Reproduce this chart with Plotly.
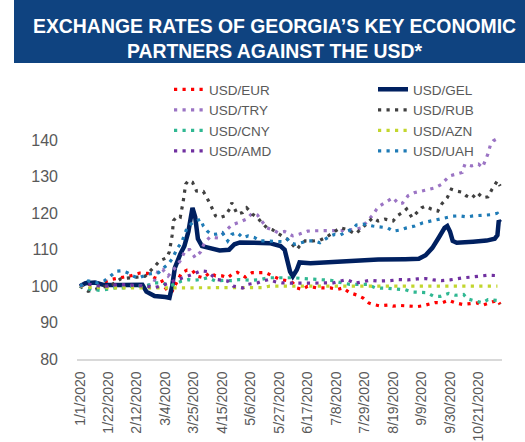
import pandas as pd
import plotly.graph_objects as go

# ---------------- data (index, 1 Jan 2020 = 100) ----------------
base_date = "2020-01-01"

eur_days = [0,2,10,17,24,30,37,44,50,55,60,63,66,68,72,75,79,83,86,91,96,100,105,109,112,116,122,127,131,137,142,148,153,157,160,164,168,175,179,185,190,194,199,204,209,213,216,221,227,231,236,244,249,253,257,262,267,272,277,282,288,293,297,303,308,310]
eur_vals = [100,100.5,100.5,101,101.9,102.3,102.8,103.6,103.5,102.3,101.8,99.5,98.2,98.6,101.4,103.7,104.4,104.3,102.8,102.3,103.7,102.8,102.8,102.3,103.2,103.8,102.5,103.7,103.7,103.7,102.8,101.8,101.5,100.9,99.5,99.1,100,99.5,99.5,99.5,99.1,99.5,98.2,97.6,96.7,95.4,95,94.6,94.8,94.5,94.7,94.6,94.4,94.6,95,95.5,95.4,96.1,95.4,95,95.2,95.4,94.8,95.4,96.1,95]

gel_days = [0,4,11,18,30,41,46,49,55,63,66,68,70,74,77,80,83,85,87,90,96,103,110,114,118,130,140,148,151,155,157,160,162,170,180,190,200,220,240,250,255,260,265,269,271,273,275,278,290,300,306,308,309,310]
gel_vals = [100,100.8,101,100.3,100.3,100.5,100.4,98.5,97.3,97,96.8,100,105,108.8,111,115,121.5,119,113,111,110.3,109.8,110,111.5,112,112,111.8,111,110,104,102.7,104.5,106.5,106.3,106.5,106.8,107,107.3,107.4,107.5,108.5,110.5,113.5,116,116.5,115,112.4,111.9,112.2,112.5,113,114,118,117.5]

try_days = [0,6,11,22,33,42,49,54,58,61,65,69,74,78,81,85,89,92,96,102,107,112,118,123,127,131,134,138,142,146,151,157,162,168,173,179,185,190,197,203,208,212,216,219,221,227,231,235,238,242,247,252,257,262,267,269,273,277,282,284,289,294,297,301,303,305,308]
try_vals = [100,99.3,99.5,100,100,100,100.2,100.5,104.6,104.6,102.8,104.5,107,110,110,107.8,109.4,112,113.5,113.2,115,116.8,117.6,118.4,120,119.5,117.9,116,115.5,114.7,115,113.8,114.3,115.1,115.2,115.2,115.2,115.2,115.3,115.6,116,117.9,119.5,121.2,122,123.4,124.3,122.6,122.8,124.8,125.7,126.1,126.6,127,128,128.9,130.3,130.7,131.2,133.5,133,133.5,132.6,136.3,139,139.9,140.5]

rub_days = [0,6,12,24,30,41,48,54,59,64,66,68,69,72,74,76,78,80,83,86,91,96,100,103,107,111,112,116,120,123,127,131,134,138,142,145,149,153,157,160,162,166,172,177,182,188,192,197,203,207,212,216,220,225,231,234,238,241,245,249,252,255,259,264,267,271,274,278,282,285,289,293,297,301,304,308,310]
rub_vals = [100,98.6,99.2,100.5,102,102.3,102.7,105,107,107.8,109.5,114,118,119.3,119,122.9,128,129,128.5,126.1,126,122.6,119.3,118.8,119.3,121.5,122.9,119.8,120.2,121.5,119.8,118.8,117.4,116,115.5,114.7,113.8,112.9,111.3,110.1,111,112.4,112.4,112.6,113.5,115,116,115.6,114.3,115.5,117.5,118.8,117.9,118.4,117.9,119.3,120.2,121.2,118.8,120.2,121.5,122,121.2,120.6,122.6,124.3,126.6,126.1,125.8,124.8,124.1,125.7,124.3,124.5,126.6,128.9,127.5]

cny_days = [0,7,15,21,26,32,38,44,50,55,61,66,72,75,80,83,89,94,100,106,112,117,127,133,139,150,157,168,179,185,192,199,212,218,227,234,240,245,251,256,261,266,272,277,283,286,292,297,301,308,310]
cny_vals = [100,99.2,98.8,99.2,99.5,99.5,100,100,100.2,100.9,100.9,100,100.9,101.4,101.8,101.6,101.8,102.3,101.4,101.6,101.5,101.8,101.6,101.8,102.3,102.3,102.3,102,101.8,101.6,101,100.5,100.5,99.5,99.4,99.3,99,98.4,98.2,98.2,97.2,97.2,98,97.5,97.7,96.5,95.9,95.4,96.3,96.1,95]

azn_days = [0,10,30,60,90,120,135,140,200,250,308]
azn_vals = [100,99.6,99.5,99.5,99.5,99.5,99.6,100,100,100,100]

amd_days = [0,7,15,22,28,35,43,49,55,61,69,74,79,83,89,94,101,109,113,120,124,131,135,139,144,149,159,170,181,187,192,197,203,208,214,220,229,235,242,249,255,261,267,273,278,283,289,295,301,308,310]
amd_vals = [100,100.5,100,100,100.5,100.3,100,100,99.6,100.2,101.4,102,102.8,103.2,104.2,104,101.8,101.4,100,99.5,100.5,100.9,101.4,101.8,101.2,100.9,100.8,100.8,100.8,100.9,101.4,101.8,100.8,101.2,101.6,101.4,101.5,101.8,101.7,102,102.1,101.7,101.5,101.7,102.1,102.3,102.5,102.8,103,102.9,103]

uah_days = [0,6,13,18,22,27,31,35,39,43,47,50,54,58,61,65,68,72,75,79,83,86,89,91,94,97,101,105,109,112,116,120,124,129,133,138,144,149,153,155,159,164,168,173,177,181,185,188,192,197,201,204,209,216,221,227,231,236,241,247,253,258,264,269,275,280,286,290,297,303,308,310]
uah_vals = [100,101.4,100.9,101.5,102.6,104.1,104.2,103.7,102.8,102.2,102.8,103.3,103.5,103.7,104.8,106,107.5,110.5,112,116,117.4,118,118.4,116.5,115.1,114.2,114.3,114.7,112.4,114.2,114.7,113.3,113.8,113.3,112.4,112.4,112.4,112.2,112.9,111.9,111.5,111.9,112.4,112.4,111.9,112.9,113.8,114.2,114,115.1,115.6,116.8,117,116.5,116.2,116,115.1,115.4,116,116.5,117.4,117.8,118.4,118.8,119.2,119.3,119,119.3,119.4,119.6,120,119]

tick_labels = ["1/1/2020","1/22/2020","2/12/2020","3/4/2020","3/25/2020","4/15/2020",
               "5/6/2020","5/27/2020","6/17/2020","7/8/2020","7/29/2020","8/19/2020",
               "9/9/2020","9/30/2020","10/21/2020"]

series_names = ["USD/EUR","USD/GEL","USD/TRY","USD/RUB","USD/CNY","USD/AZN","USD/AMD","USD/UAH"]
series_colors = ["#FF0000","#002060","#9B74C4","#404040","#30B892","#C2D62E","#7030A0","#1F7BB6"]
# legend column of each series (reference shows two columns)
series_legend = ["legend","legend2","legend","legend2","legend","legend2","legend","legend2"]

# ---------------- figure ----------------
t0 = pd.Timestamp(base_date)
def dates(days):
    return [t0 + pd.Timedelta(days=d) for d in days]

series = [(eur_days, eur_vals), (gel_days, gel_vals), (try_days, try_vals), (rub_days, rub_vals),
          (cny_days, cny_vals), (azn_days, azn_vals), (amd_days, amd_vals), (uah_days, uah_vals)]

FONT = "Liberation Sans"
GRAY = "#595959"

fig = go.Figure()
for (d, v), name, col, lg in zip(series, series_names, series_colors, series_legend):
    if name == "USD/GEL":
        line = dict(color=col, width=4.5)
    else:
        line = dict(color=col, width=3.2, dash="3.2px,5.3px")
    fig.add_trace(go.Scatter(x=dates(d), y=v, mode="lines", name=name, line=line,
                             legend=lg, hoverinfo="skip"))

W, H = 525, 442
ML, MR, MT, MB = 77, 23, 104, 83
PW, PH = W - ML - MR, H - MT - MB
def px_x(x):
    return (x - ML) / PW
def px_y(y):
    return (H - MB - y) / PH

tick_dates = [t0 + pd.Timedelta(days=21 * i) for i in range(len(tick_labels))]
x_range = [t0 - pd.Timedelta(hours=53), t0 + pd.Timedelta(hours=int(311.4 * 24))]

leg_common = dict(orientation="v", yanchor="top", xanchor="left",
                  font=dict(size=13.5, color=GRAY, family=FONT),
                  bgcolor="rgba(0,0,0,0)", traceorder="normal", tracegroupgap=0)

fig.update_layout(
    width=W, height=H,
    margin=dict(l=ML, r=MR, t=MT, b=MB, autoexpand=False),
    paper_bgcolor="white", plot_bgcolor="white",
    font=dict(family=FONT, color=GRAY),
    showlegend=True,
    legend=dict(x=px_x(169), y=px_y(74), **leg_common),
    legend2=dict(x=px_x(373), y=px_y(74), **leg_common),
    xaxis=dict(type="date", range=x_range, tickvals=tick_dates, ticktext=tick_labels,
               tickangle=-90, tickfont=dict(size=14, color=GRAY), showgrid=False, zeroline=False,
               showline=True, linecolor="#D9D9D9", linewidth=1.5, ticks="", ticklabelstandoff=5),
    yaxis=dict(range=[80, 150], tickvals=[80, 90, 100, 110, 120, 130, 140],
               tickfont=dict(size=16, color=GRAY), showgrid=False, zeroline=False, showline=False,
               ticks="", ticklabelstandoff=18),
    shapes=[dict(type="rect", xref="paper", yref="paper", x0=px_x(14), x1=px_x(526),
                 y0=px_y(63), y1=px_y(-1), fillcolor="#0F4380", line=dict(width=0), layer="below")],
    annotations=[dict(text="<b>EXCHANGE RATES OF GEORGIA’S KEY ECONOMIC<br>PARTNERS AGAINST THE USD*</b>",
                      xref="paper", yref="paper", x=px_x(274), y=px_y(38.5), xanchor="center",
                      yanchor="middle", showarrow=False, align="center",
                      font=dict(family=FONT, size=19.4, color="white"))],
)

fig.write_html("out.html", config={"displayModeBar": False},
               post_script="document.body.style.margin='0px';")
